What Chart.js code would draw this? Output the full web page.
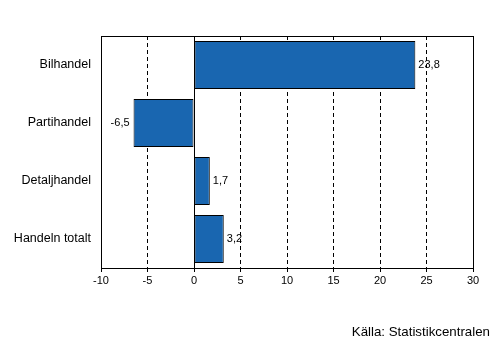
<!DOCTYPE html>
<html>
<head>
<meta charset="utf-8">
<script src="https://cdn.jsdelivr.net/npm/chart.js@4/dist/chart.umd.min.js"></script>
<style>
  html, body { margin: 0; padding: 0; background: #fff; }
  #wrap { position: relative; width: 501px; height: 353px; }
</style>
</head>
<body>
<div id="wrap"><canvas id="barChart" width="501" height="353"></canvas></div>
<script>
const categories = ['Bilhandel', 'Partihandel', 'Detaljhandel', 'Handeln totalt'];
const changes = [23.8, -6.5, 1.7, 3.2];
const xMin = -10;
const xMax = 30;
const sourceText = 'Källa: Statistikcentralen';

const FONT = '"Liberation Sans", Arial, sans-serif';

function formatComma(v) {
  return v.toFixed(1).replace('.', ',');
}

// box around plot, solid zero line, value labels and source note
const extrasPlugin = {
  id: 'extras',
  afterDatasetsDraw(chart) {
    const ctx = chart.ctx;
    const area = chart.chartArea;
    const x = chart.scales.x;
    ctx.save();
    ctx.strokeStyle = '#000';
    ctx.lineWidth = 1;
    ctx.setLineDash([]);
    const zx = Math.round(x.getPixelForValue(0)) + 0.5;
    ctx.beginPath();
    ctx.moveTo(zx, area.top);
    ctx.lineTo(zx, area.bottom);
    ctx.stroke();
    ctx.strokeRect(Math.round(area.left) + 0.5, Math.round(area.top) + 0.5,
      Math.round(area.right - area.left), Math.round(area.bottom - area.top));

    ctx.fillStyle = '#000';
    ctx.font = '11px ' + FONT;
    ctx.textBaseline = 'middle';
    const meta = chart.getDatasetMeta(0);
    meta.data.forEach((bar, i) => {
      const v = changes[i];
      if (v >= 0) {
        ctx.textAlign = 'left';
        ctx.fillText(formatComma(v), bar.x + 3, bar.y);
      } else {
        ctx.textAlign = 'right';
        ctx.fillText(formatComma(v), bar.x - 4, bar.y);
      }
    });

    ctx.font = '13.3px ' + FONT;
    ctx.textAlign = 'right';
    ctx.fillText(sourceText, 490, 332);
    ctx.restore();
  }
};

const ctx = document.getElementById('barChart').getContext('2d');
new Chart(ctx, {
  type: 'bar',
  data: {
    labels: categories,
    datasets: [{
      data: changes,
      backgroundColor: '#1966b0',
      borderColor: '#000',
      borderWidth: 1,
      borderSkipped: false,
      categoryPercentage: 1,
      barPercentage: 0.83
    }]
  },
  options: {
    indexAxis: 'y',
    responsive: false,
    animation: false,
    layout: { padding: { left: 0, top: 36, right: 28, bottom: 0 } },
    plugins: {
      legend: { display: false },
      tooltip: { enabled: false }
    },
    scales: {
      x: {
        min: xMin,
        max: xMax,
        ticks: {
          stepSize: 5,
          color: '#000',
          font: { family: FONT, size: 11 },
          padding: 2,
          maxRotation: 0
        },
        grid: {
          color: c => (c.tick && (c.tick.value === 0 || c.tick.value === xMin || c.tick.value === xMax)) ? 'rgba(0,0,0,0)' : '#000',
          tickColor: '#000',
          tickLength: 4,
          lineWidth: 1
        },
        border: { display: true, color: '#000', dash: [4, 3] },
        afterFit: s => { s.height = 85; }
      },
      y: {
        ticks: {
          color: '#000',
          font: { family: FONT, size: 12.5 },
          padding: 10
        },
        grid: { display: false, drawTicks: false },
        border: { display: true, color: '#000' },
        afterFit: s => { s.width = 101; }
      }
    }
  },
  plugins: [extrasPlugin]
});
</script>
</body>
</html>
